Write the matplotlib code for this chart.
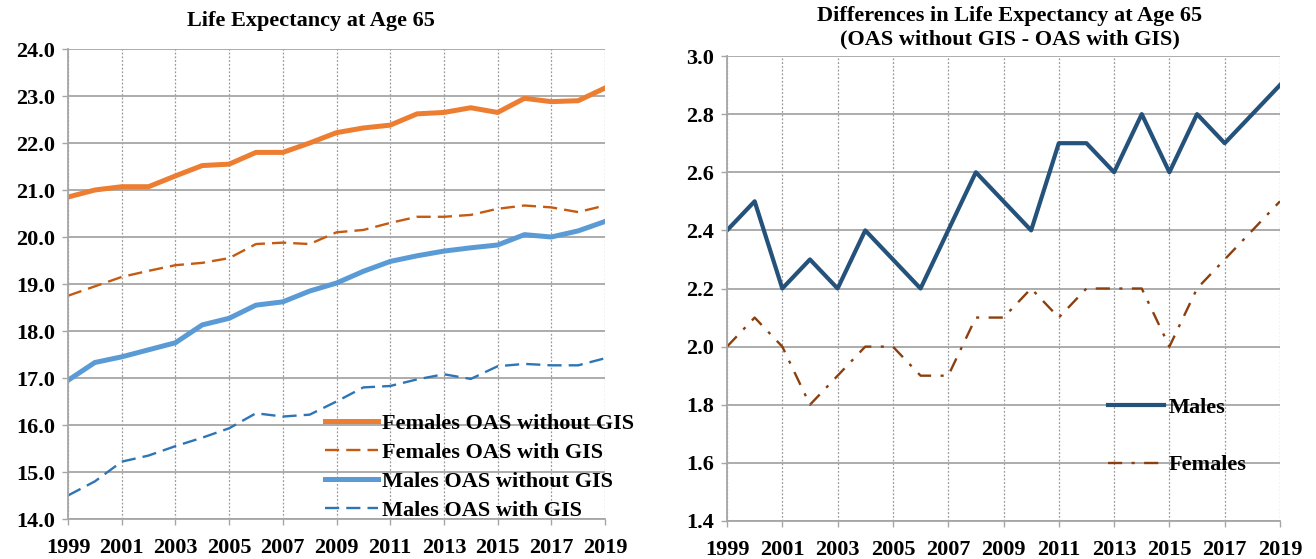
import matplotlib
matplotlib.use("Agg")
import matplotlib.pyplot as plt
from matplotlib.ticker import FormatStrFormatter

plt.rcParams['font.family'] = ['Liberation Serif', 'DejaVu Serif']
plt.rcParams['font.weight'] = 'bold'

years = list(range(1999, 2020))
females_no_gis = [20.85, 21.0, 21.07, 21.07, 21.3, 21.52, 21.55, 21.8, 21.8, 22.0, 22.22,
                  22.32, 22.38, 22.62, 22.65, 22.75, 22.65, 22.95, 22.88, 22.9, 23.17]
females_gis = [18.75, 18.95, 19.15, 19.28, 19.4, 19.45, 19.55, 19.85, 19.88, 19.85, 20.1,
               20.15, 20.3, 20.43, 20.43, 20.47, 20.6, 20.67, 20.63, 20.53, 20.67]
males_no_gis = [16.95, 17.33, 17.45, 17.6, 17.75, 18.13, 18.27, 18.55, 18.62, 18.85, 19.02,
                19.27, 19.48, 19.6, 19.7, 19.77, 19.83, 20.05, 20.0, 20.13, 20.33]
males_gis = [14.5, 14.8, 15.22, 15.35, 15.55, 15.73, 15.93, 16.25, 16.18, 16.22, 16.5,
             16.8, 16.83, 16.97, 17.08, 16.98, 17.25, 17.3, 17.27, 17.27, 17.42]
diff_males = [2.4, 2.5, 2.2, 2.3, 2.2, 2.4, 2.3, 2.2, 2.4, 2.6, 2.5,
              2.4, 2.7, 2.7, 2.6, 2.8, 2.6, 2.8, 2.7, 2.8, 2.9]
diff_females = [2.0, 2.1, 2.0, 1.8, 1.9, 2.0, 2.0, 1.9, 1.9, 2.1, 2.1,
                2.2, 2.1, 2.2, 2.2, 2.2, 2.0, 2.2, 2.3, 2.4, 2.5]
xticks = list(range(1999, 2020, 2))
left_yticks = list(range(14, 25))
right_yticks = [1.4, 1.6, 1.8, 2.0, 2.2, 2.4, 2.6, 2.8, 3.0]

W, H = 1316, 559
fig = plt.figure(figsize=(W / 100, H / 100), dpi=100)

def px_axes(x0, x1, ytop, ybot):
    return fig.add_axes([x0 / W, 1 - ybot / H, (x1 - x0) / W, (ybot - ytop) / H])

ax1 = px_axes(68, 605, 49, 519)
ax2 = px_axes(727, 1280, 56, 521)

grid_c = '#a6a6a6'

def style(ax):
    ax.set_xlim(1999, 2019)
    ax.set_xticks(xticks)
    ax.grid(axis='y', color=grid_c, lw=1.3, ls='-')
    ax.grid(axis='x', color='#9a9a9a', lw=0.9, ls=(0, (1.5, 1.5)))
    ax.set_axisbelow(True)
    for s in ['top', 'right']:
        ax.spines[s].set_visible(False)
    for s in ['left', 'bottom']:
        ax.spines[s].set_color(grid_c)
        ax.spines[s].set_linewidth(1.3)
    ax.tick_params(axis='both', colors=grid_c, length=4.5, width=1.0, labelcolor='black',
                   labelsize=16)
    ax.tick_params(axis='y', pad=5)
    ax.tick_params(axis='x', pad=9)
    for lab in ax.get_xticklabels() + ax.get_yticklabels():
        lab.set_fontweight('bold')

ax1.plot(years, females_no_gis, color='#ED7D31', lw=3.6, label='Females OAS without GIS')
ax1.plot(years, females_gis, color='#C55A11', lw=1.7, ls=(0, (6, 3)), label='Females OAS with GIS')
ax1.plot(years, males_no_gis, color='#5B9BD5', lw=3.6, label='Males OAS without GIS')
ax1.plot(years, males_gis, color='#2E75B6', lw=1.7, ls=(0, (6, 3)), label='Males OAS with GIS')
ax1.set_ylim(14, 24)
ax1.set_yticks(left_yticks)
ax1.yaxis.set_major_formatter(FormatStrFormatter('%.1f'))
style(ax1)
fig.text(311 / W, 1 - 21 / H, 'Life Expectancy at Age 65', fontsize=16, fontweight='bold',
         ha='center', va='center')
ax1.legend(loc='upper left', bbox_to_anchor=(325 / W, 1 - 413 / H), bbox_transform=fig.transFigure,
           frameon=False, prop={'size': 16, 'weight': 'bold'}, handlelength=2.4,
           handletextpad=0.18, labelspacing=0.38, borderpad=0, borderaxespad=0)

ax2.plot(years, diff_males, color='#24527A', lw=3.0, label='Males')
ax2.plot(years, diff_females, color='#8B3F0E', lw=1.7, ls=(0, (6, 4, 1.3, 4)), label='Females')
ax2.set_ylim(1.4, 3.0)
ax2.set_yticks(right_yticks)
ax2.yaxis.set_major_formatter(FormatStrFormatter('%.1f'))
style(ax2)
fig.text(1010 / W, 1 - 28 / H, 'Differences in Life Expectancy at Age 65\n(OAS without GIS - OAS with GIS)',
         fontsize=16, fontweight='bold', ha='center', va='center', linespacing=1.2)
ax2.legend(loc='upper left', bbox_to_anchor=(1108 / W, 1 - 397 / H), bbox_transform=fig.transFigure,
           frameon=False, prop={'size': 16, 'weight': 'bold'}, handlelength=2.5,
           handletextpad=0.22, labelspacing=1.68, borderpad=0, borderaxespad=0)

fig.savefig('out.png', dpi=100)
